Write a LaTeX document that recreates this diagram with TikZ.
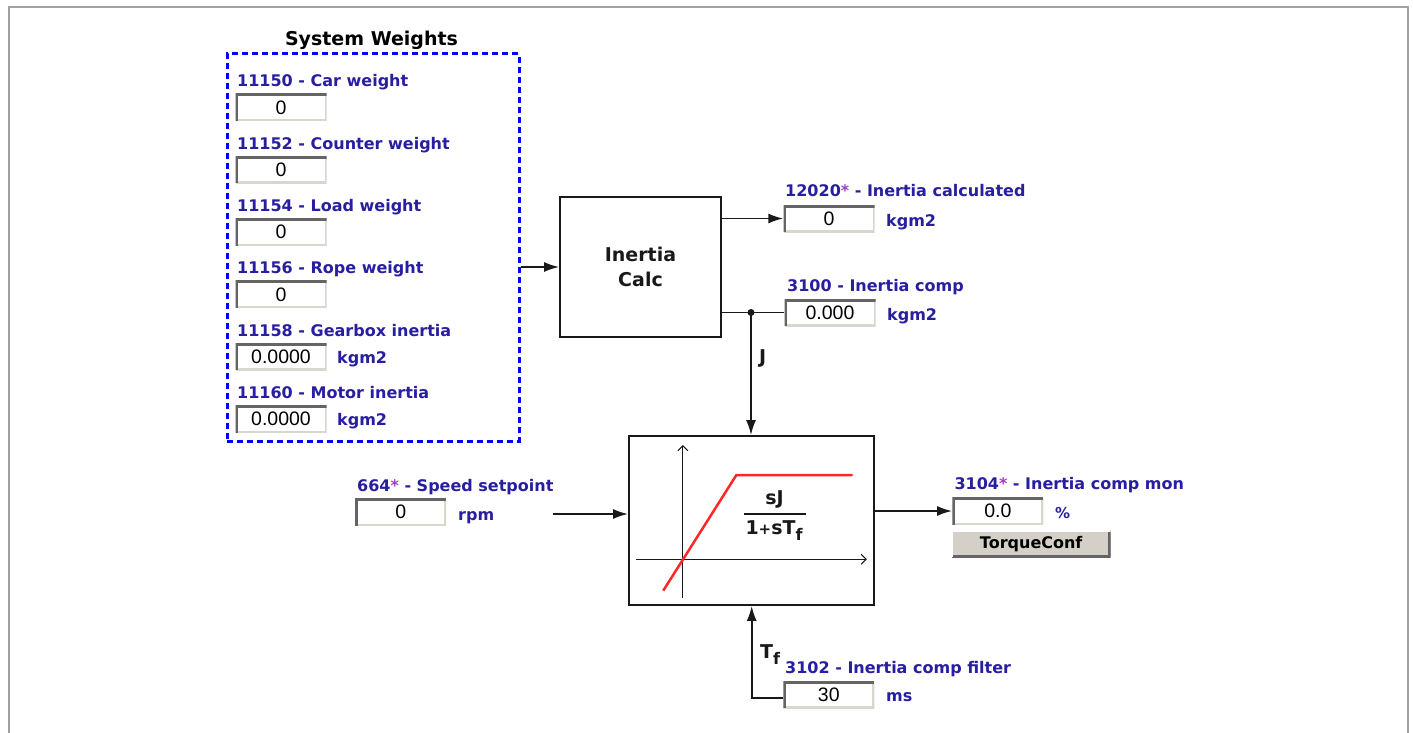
\documentclass[tikz,border=0pt]{standalone}
\usepackage{fontspec}
\setmainfont{DejaVu Sans}
\newfontfamily\valf{Liberation Sans}
\usetikzlibrary{arrows.meta}
\definecolor{lblblue}{RGB}{40,30,160}
\definecolor{astcol}{RGB}{160,60,200}
\definecolor{dashblue}{RGB}{0,0,255}
\definecolor{frameg}{RGB}{160,160,160}
\definecolor{boxdark}{RGB}{100,100,100}
\definecolor{boxlight}{RGB}{215,215,205}
\definecolor{btnfill}{RGB}{212,208,200}
\definecolor{linecol}{RGB}{25,25,25}
\definecolor{redline}{RGB}{255,40,40}
\newcommand{\astx}{{\color{astcol}*}}
\begin{document}
\begin{tikzpicture}[x=1pt,y=-1pt,
  lbl/.style={anchor=base west, inner sep=0, text=lblblue, font=\fontsize{16}{18}\selectfont\bfseries},
  valbox/.style={minimum width=91pt, minimum height=27pt, inner sep=0, fill=white,
    font=\valf\fontsize{19.5}{22}\selectfont,
    path picture={
      \draw[line width=4pt, boxlight] (path picture bounding box.south west) -| (path picture bounding box.north east);
      \draw[line width=5pt, boxdark] (path picture bounding box.south west) |- (path picture bounding box.north east);}},
  btn/.style={minimum width=159pt, minimum height=27pt, inner sep=0, fill=btnfill,
    font=\fontsize{16}{18}\selectfont\bfseries,
    path picture={
      \draw[line width=5pt, boxdark] (path picture bounding box.south west) -| (path picture bounding box.north east);
      \draw[line width=3pt, white] (path picture bounding box.south west) |- (path picture bounding box.north east);}},
  blk/.style={draw=linecol, line width=1.8pt, inner sep=0},
  ln/.style={draw=linecol, line width=1.8pt},
  arr/.style={ln, -{Latex[length=15pt,width=10pt]}},
  axis/.style={draw=linecol, line width=1pt, -{Straight Barb[length=5pt,width=10pt]}},
  big/.style={inner sep=0, font=\fontsize{19}{25}\selectfont\bfseries, text=linecol}
]
\useasboundingbox (0,0) rectangle (1413,733);
\fill[white] (0,0) rectangle (1413,733);
\draw[frameg, line width=2pt] (9,745) -- (9,6.7) -- (1408.3,6.7) -- (1408.3,745);

% System weights group
\node[draw=dashblue, line width=3pt, dash pattern=on 6pt off 4pt, minimum width=292pt, minimum height=387pt, inner sep=0] (sw) at (373,247.5) {};
\node[big, anchor=base, text=black] (title) at (371.5,46) {System Weights};

\node[lbl] (l11150) at (237,87) {11150 - Car weight};
\node[valbox] (v11150) at (281,107.5) {0};
\node[lbl] (l11152) at (237,149.3) {11152 - Counter weight};
\node[valbox] (v11152) at (281,169.8) {0};
\node[lbl] (l11154) at (237,211.6) {11154 - Load weight};
\node[valbox] (v11154) at (281,232.1) {0};
\node[lbl] (l11156) at (237,273.9) {11156 - Rope weight};
\node[valbox] (v11156) at (281,294.4) {0};
\node[lbl] (l11158) at (237,336.2) {11158 - Gearbox inertia};
\node[valbox] (v11158) at (281,356.7) {0.0000};
\node[lbl] (u11158) at (337,363.5) {kgm2};
\node[lbl] (l11160) at (237,398.5) {11160 - Motor inertia};
\node[valbox] (v11160) at (281,419) {0.0000};
\node[lbl] (u11160) at (337,425.8) {kgm2};

% Inertia calc
\node[blk, big, minimum width=161pt, minimum height=140pt, align=center] (calc) at (640.5,267) {Inertia\\Calc};
\draw[arr] (sw.east |- calc.west) -- (calc.west);

\node[lbl] (l12020) at (785,196.7) {12020\astx{} - Inertia calculated};
\node[valbox] (v12020) at (829,218.5) {0};
\node[lbl] (u12020) at (886,226) {kgm2};
\draw[arr] (calc.east |- v12020.west) -- (v12020.west);

\node[lbl] (l3100) at (787,291) {3100 - Inertia comp};
\node[valbox] (v3100) at (830,312.5) {0.000};
\node[lbl] (u3100) at (887,320) {kgm2};
\coordinate (jdot) at (751,312.5);
\draw[ln] (calc.east |- v3100.west) -- (v3100.west);
\fill[linecol] (jdot) circle (3.5pt);

% Filter block
\node[blk, minimum width=245pt, minimum height=169pt] (filt) at (751.5,520.5) {};
\draw[arr] (jdot) -- (jdot |- filt.north);
\node[big, anchor=base west] (jl) at (759,363) {J};

\draw[axis] (682.9,597.7) -- (682.9,445);
\draw[axis] (636,559.3) -- (866.8,559.3);
\draw[redline, line width=2.5pt] (663.2,590.7) -- (736.4,475) -- (852.5,475);
\node[big, anchor=base] (sj) at (774.5,504) {sJ};
\draw[ln] (743.6,514) -- (806,514);
\node[big, anchor=base] (den) at (774,534.3) {1{\fontsize{15}{15}\selectfont+}sT\raisebox{-6pt}{\fontsize{16}{16}\selectfont f}};

% input
\node[lbl] (l664) at (357,491) {664\astx{} - Speed setpoint};
\node[valbox] (v664) at (400.7,512.2) {0};
\node[lbl] (u664) at (458,520) {rpm};
\coordinate (ins) at (553,514);
\draw[arr] (ins) -- (ins -| filt.west);

% output
\node[lbl] (l3104) at (954.3,489.3) {3104\astx{} - Inertia comp mon};
\node[valbox] (v3104) at (997.8,511) {0.0};
\node[lbl, font=\fontsize{15}{17}\selectfont\bfseries] (u3104) at (1055,518) {\%};
\draw[arr] (filt.east |- v3104.west) -- (v3104.west);
\node[btn] (btn) at (1031.2,543.7) {TorqueConf};

% filter time
\node[lbl] (l3102) at (785,673.3) {3102 - Inertia comp filter};
\node[valbox] (v3102) at (828.8,694.7) {30};
\node[lbl] (u3102) at (886,701.7) {ms};
\coordinate (tfc) at (751.7,698);
\draw[arr] (v3102.west |- tfc) -- (tfc) -- (tfc |- filt.south);
\node[big, anchor=base west] (tfl) at (760,658.3) {T\raisebox{-6pt}{\fontsize{16}{16}\selectfont f}};
\end{tikzpicture}
\end{document}
